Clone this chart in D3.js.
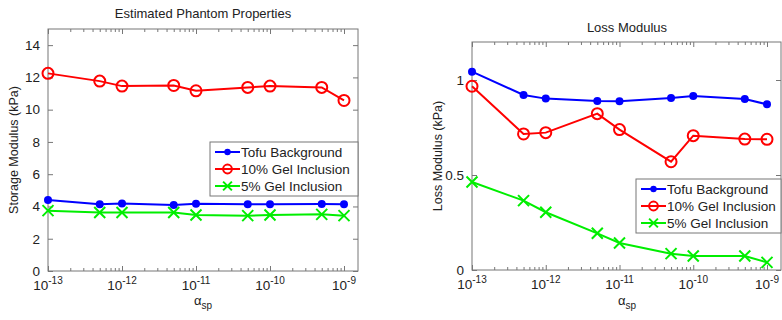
<!DOCTYPE html>
<html>
<head>
<meta charset="utf-8">
<script src="https://cdn.jsdelivr.net/npm/d3@7"></script>
<style>
  body { margin: 0; background: #fff; }
  svg { font-family: "Liberation Sans", Arial, sans-serif; }
</style>
</head>
<body>
<div id="chart"></div>
<script>
// alpha_sp values (x axis, log scale)
const alphas = [1e-13, 5e-13, 1e-12, 5e-12, 1e-11, 5e-11, 1e-10, 5e-10, 1e-9];
const xTicks = [1e-13, 1e-12, 1e-11, 1e-10, 1e-9];
const seriesNames = ["Tofu Background", "10% Gel Inclusion", "5% Gel Inclusion"];

// storage modulus (kPa)
const storageTofu = [4.40, 4.13, 4.19, 4.09, 4.17, 4.13, 4.13, 4.15, 4.13];
const storageGel10 = [12.25, 11.77, 11.46, 11.50, 11.17, 11.38, 11.46, 11.38, 10.57];
const storageGel5 = [3.74, 3.63, 3.63, 3.63, 3.47, 3.43, 3.47, 3.51, 3.43];
const storageTicks = [0, 2, 4, 6, 8, 10, 12, 14];

// loss modulus (kPa)
const lossTofu = [1.044, 0.921, 0.902, 0.889, 0.888, 0.905, 0.916, 0.900, 0.872];
const lossGel10 = [0.967, 0.716, 0.723, 0.823, 0.739, 0.570, 0.707, 0.689, 0.688];
const lossGel5 = [0.463, 0.365, 0.304, 0.193, 0.142, 0.086, 0.074, 0.074, 0.040];
const lossTicks = [0, 0.5, 1];

const colors = ["#0000ff", "#ff0000", "#00ee00"];
const markers = ["dot", "circle", "cross"];

const svg = d3.select("#chart").append("svg")
  .attr("width", 782).attr("height", 320);

// minor ticks for a log axis between the major decades
const minorTicks = [];
xTicks.slice(0, -1).forEach(d => {
  for (let k = 2; k <= 9; k++) minorTicks.push(d * k);
});

function panel(opt) {
  const x = d3.scaleLog().domain([1e-13, 1e-9]).range([opt.left, opt.right - 14]);
  const y = d3.scaleLinear().domain(opt.yDomain).range([opt.bottom, opt.top]);
  const g = svg.append("g");

  // frame
  g.append("rect")
    .attr("x", opt.left).attr("y", opt.top)
    .attr("width", opt.right - opt.left).attr("height", opt.bottom - opt.top)
    .attr("fill", "none").attr("stroke", "#777").attr("stroke-width", 1);

  // bottom/top axes, ticks point inward
  g.append("g").attr("transform", `translate(0,${opt.bottom})`)
    .call(d3.axisBottom(x).tickValues(xTicks).tickSize(-5).tickFormat(""));
  g.append("g").attr("transform", `translate(0,${opt.bottom})`)
    .call(d3.axisBottom(x).tickValues(minorTicks).tickSize(-3).tickFormat(""));
  g.append("g").attr("transform", `translate(0,${opt.top})`)
    .call(d3.axisTop(x).tickValues(xTicks).tickSize(-5).tickFormat(""));
  g.append("g").attr("transform", `translate(0,${opt.top})`)
    .call(d3.axisTop(x).tickValues(minorTicks).tickSize(-3).tickFormat(""));

  // 10^n labels
  const lab = g.append("g").selectAll("text").data(xTicks).join("text")
    .attr("x", d => x(d))
    .attr("y", opt.bottom + 19)
    .attr("text-anchor", "middle")
    .attr("font-size", 13.5).attr("fill", "#222");
  lab.append("tspan").text("10");
  lab.append("tspan").attr("dy", -6).attr("font-size", 10)
    .text(d => "-" + Math.round(-Math.log10(d)));

  // y axes
  g.append("g").attr("transform", `translate(${opt.left},0)`)
    .call(d3.axisLeft(y).tickValues(opt.yTicks).tickSize(-5).tickPadding(8)
      .tickFormat(d3.format("~g")))
    .selectAll("text").attr("font-size", 13.5).attr("fill", "#222")
    .attr("font-family", "Liberation Sans, Arial, sans-serif");
  g.append("g").attr("transform", `translate(${opt.right},0)`)
    .call(d3.axisRight(y).tickValues(opt.yTicks).tickSize(-5).tickFormat(""));

  g.selectAll(".domain").remove();
  g.selectAll(".tick line").attr("stroke", "#777");

  // title and labels
  g.append("text").attr("x", opt.titleX).attr("y", opt.titleY)
    .attr("text-anchor", "middle").attr("font-size", 13).attr("fill", "#222")
    .text(opt.title);
  g.append("text")
    .attr("transform", `translate(${opt.left - 30},${(opt.top + opt.bottom) / 2}) rotate(-90)`)
    .attr("text-anchor", "middle").attr("font-size", 12.5).attr("fill", "#222")
    .text(opt.yLabel);
  const xl = g.append("text").attr("x", opt.titleX).attr("y", 305)
    .attr("text-anchor", "middle").attr("font-size", 13).attr("fill", "#222");
  xl.append("tspan").text("\u03b1");
  xl.append("tspan").attr("dy", 4).attr("font-size", 10).text("sp");

  // series
  const line = d3.line().x((d, i) => x(alphas[i])).y(d => y(d));
  opt.series.forEach((vals, s) => {
    g.append("path").datum(vals)
      .attr("d", line).attr("fill", "none")
      .attr("stroke", colors[s]).attr("stroke-width", 2);
    drawMarkers(g, vals.map((v, i) => [x(alphas[i]), y(v)]), s);
  });

  // legend
  const lg = g.append("g");
  lg.append("rect").attr("x", opt.legend[0]).attr("y", opt.legend[1])
    .attr("width", opt.legend[2]).attr("height", 54)
    .attr("fill", "#fff").attr("stroke", "#777");
  seriesNames.forEach((name, s) => {
    const ly = opt.legend[1] + 10 + s * 17;
    const lx = opt.legend[0] + 5;
    lg.append("line").attr("x1", lx).attr("x2", lx + 25)
      .attr("y1", ly).attr("y2", ly)
      .attr("stroke", colors[s]).attr("stroke-width", 2);
    drawMarkers(lg, [[lx + 12.5, ly]], s, 0.8);
    lg.append("text").attr("x", lx + 26).attr("y", ly + 5)
      .attr("font-size", 13.5).attr("fill", "#222").text(name);
  });
}

function drawMarkers(g, pts, s, k = 1) {
  const c = colors[s];
  if (markers[s] === "dot") {
    g.selectAll(null).data(pts).join("circle")
      .attr("cx", d => d[0]).attr("cy", d => d[1]).attr("r", 4 * k)
      .attr("fill", c);
  } else if (markers[s] === "circle") {
    g.selectAll(null).data(pts).join("circle")
      .attr("cx", d => d[0]).attr("cy", d => d[1]).attr("r", 5.5 * k)
      .attr("fill", "none").attr("stroke", c).attr("stroke-width", 2);
  } else {
    const r = 5.5 * k;
    g.selectAll(null).data(pts).join("path")
      .attr("d", d => `M${d[0] - r},${d[1] - r}L${d[0] + r},${d[1] + r}M${d[0] - r},${d[1] + r}L${d[0] + r},${d[1] - r}`)
      .attr("stroke", c).attr("stroke-width", 2).attr("fill", "none");
  }
}

panel({
  left: 48, right: 358, top: 29, bottom: 271,
  yDomain: [0, 15], yTicks: storageTicks,
  title: "Estimated Phantom Properties", titleX: 203, titleY: 18,
  yLabel: "Storage Modulus (kPa)",
  series: [storageTofu, storageGel10, storageGel5],
  legend: [210, 142, 148]
});

panel({
  left: 472, right: 781, top: 42, bottom: 270,
  yDomain: [0, 1.2], yTicks: lossTicks,
  title: "Loss Modulus", titleX: 627, titleY: 32,
  yLabel: "Loss Modulus (kPa)",
  series: [lossTofu, lossGel10, lossGel5],
  legend: [636, 179, 145]
});
</script>
</body>
</html>
